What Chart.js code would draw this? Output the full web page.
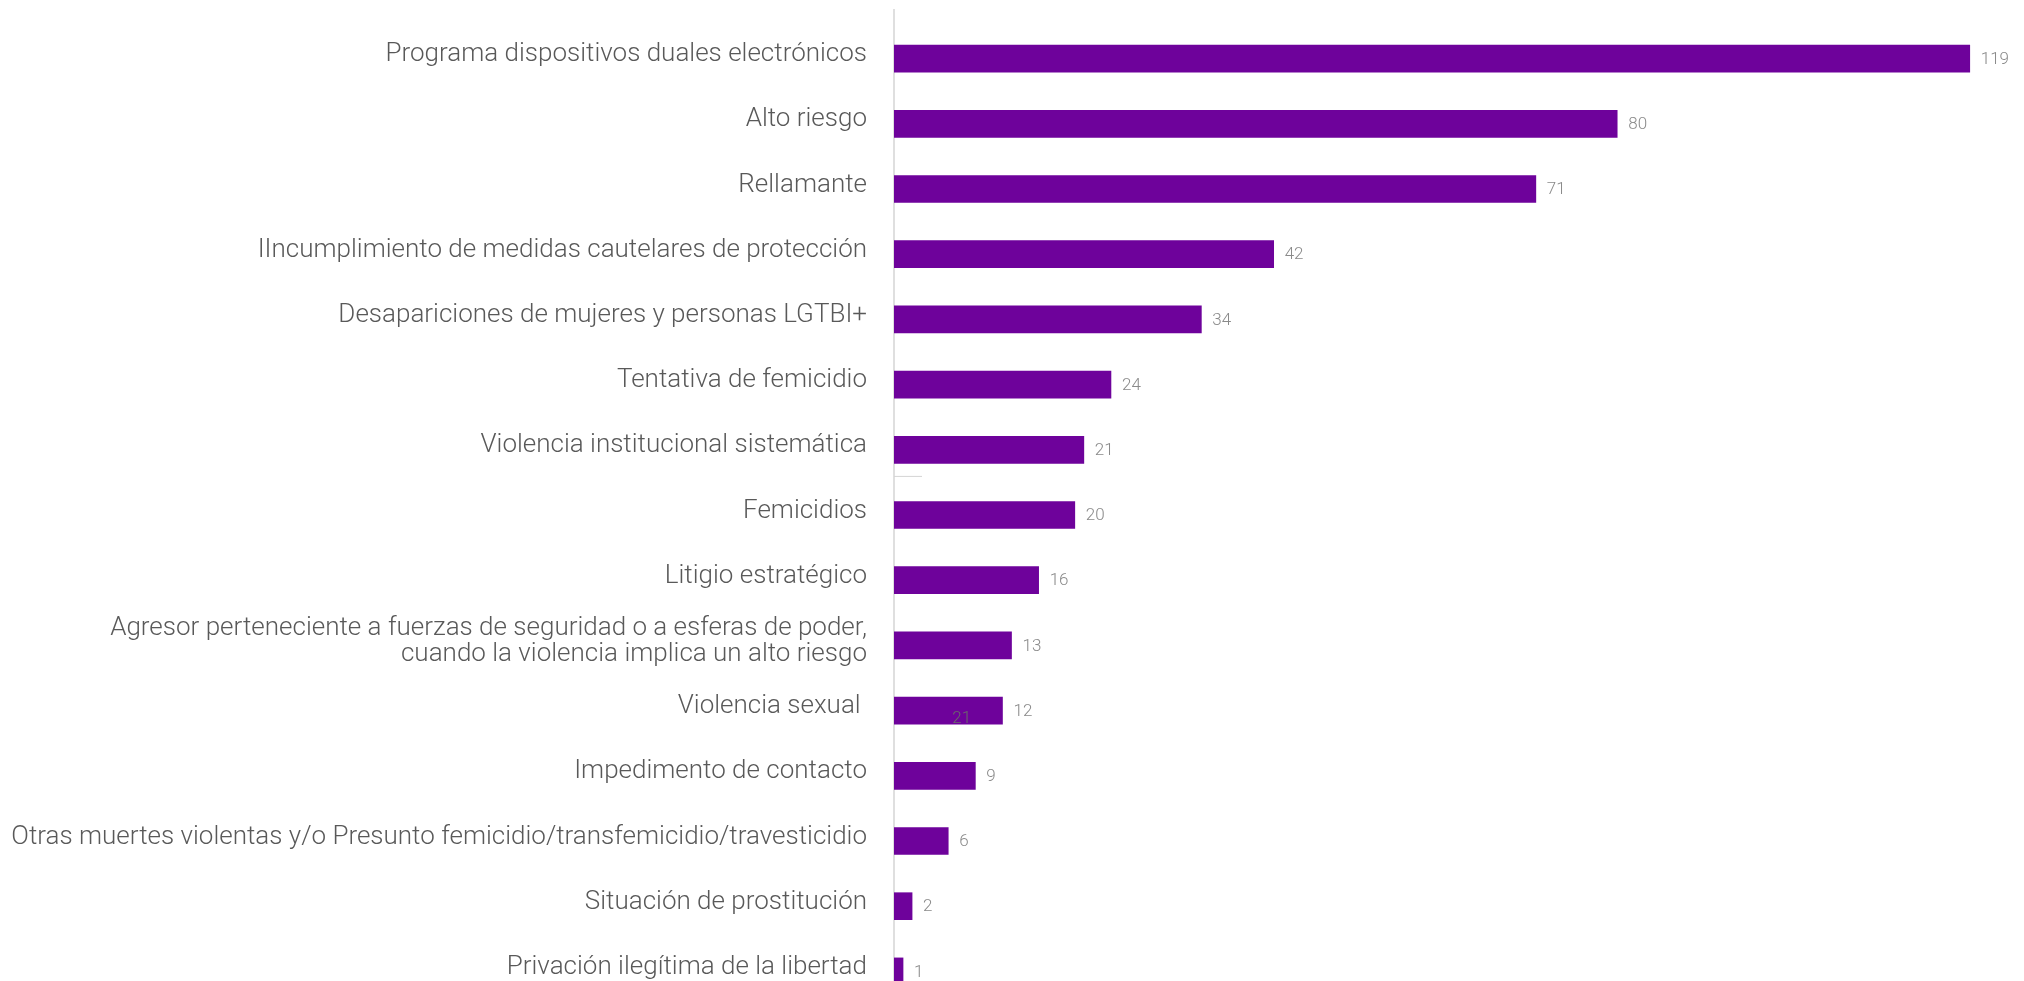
<!DOCTYPE html>
<html lang="es">
<head>
<meta charset="utf-8">
<title>Casos por tipo</title>
<script src="https://cdn.jsdelivr.net/npm/chart.js@4/dist/chart.umd.min.js"></script>
<style>
  html, body { margin: 0; padding: 0; background: #fff; overflow: hidden; }
  #wrap { width: 2024px; height: 1004px; }
</style>
</head>
<body>
<div id="wrap"><canvas id="casosChart" width="2024" height="1004"></canvas></div>
<script>
// categorias (de arriba hacia abajo) y cantidades
const categorias = [
  "Programa dispositivos duales electrónicos",
  "Alto riesgo",
  "Rellamante",
  "IIncumplimiento de medidas cautelares de protección",
  "Desapariciones de mujeres y personas LGTBI+",
  "Tentativa de femicidio",
  "Violencia institucional sistemática",
  "Femicidios",
  "Litigio estratégico",
  ["Agresor perteneciente a fuerzas de seguridad o a esferas de poder,",
   "cuando la violencia implica un alto riesgo"],
  "Violencia sexual ",
  "Impedimento de contacto",
  "Otras muertes violentas y/o Presunto femicidio/transfemicidio/travesticidio",
  "Situación de prostitución",
  "Privación ilegítima de la libertad"
];
const cantidades = [119, 80, 71, 42, 34, 24, 21, 20, 16, 13, 12, 9, 6, 2, 1];

// etiqueta suelta que aparece en el original sobre la barra de "Violencia sexual"
const notaSuelta = { texto: "21", indice: 10, valor: 7.5 };

const colores = {
  barra: "#6e029b",
  texto: "#595959",
  valor: "#8a8a8a",
  eje: "#d4d4d4"
};

// linea vertical del eje (arranca un poco mas arriba que la primera barra)
const ejePlugin = {
  id: "ejeVertical",
  beforeDatasetsDraw(chart) {
    const ctx = chart.ctx;
    const x = chart.scales.x.getPixelForValue(0);
    ctx.save();
    ctx.strokeStyle = colores.eje;
    ctx.lineWidth = 1.5;
    ctx.beginPath();
    ctx.moveTo(x, 9);
    ctx.lineTo(x, chart.height);
    ctx.stroke();
    // marquita corta que quedo entre "Violencia institucional" y "Femicidios"
    const yA = chart.scales.y.getPixelForValue(6);
    const yB = chart.scales.y.getPixelForValue(7);
    const ym = (yA + yB) / 2 - 6;
    ctx.lineWidth = 1;
    ctx.beginPath();
    ctx.moveTo(x, ym);
    ctx.lineTo(x + 28, ym);
    ctx.stroke();
    ctx.restore();
  }
};

// valores al final de cada barra
const valoresPlugin = {
  id: "valores",
  afterDatasetsDraw(chart) {
    const ctx = chart.ctx;
    const meta = chart.getDatasetMeta(0);
    ctx.save();
    ctx.font = "300 17px Roboto";
    ctx.fillStyle = colores.valor;
    ctx.textBaseline = "middle";
    ctx.textAlign = "left";
    meta.data.forEach((bar, i) => {
      ctx.fillText(String(cantidades[i]), bar.x + 11, bar.y + 1);
    });
    // nota suelta
    const nx = chart.scales.x.getPixelForValue(notaSuelta.valor);
    const ny = chart.scales.y.getPixelForValue(notaSuelta.indice);
    ctx.fillStyle = "#6a6a6a";
    ctx.textAlign = "center";
    ctx.fillText(notaSuelta.texto, nx, ny + 8);
    ctx.restore();
  }
};

const ctx = document.getElementById("casosChart").getContext("2d");

new Chart(ctx, {
  type: "bar",
  data: {
    labels: categorias,
    datasets: [
      {
        data: cantidades,
        backgroundColor: colores.barra,
        borderWidth: 0,
        barThickness: 27
      }
    ]
  },
  options: {
    indexAxis: "y",
    responsive: false,
    animation: false,
    plugins: {
      legend: { display: false },
      tooltip: { enabled: false }
    },
    layout: {
      padding: { top: 26, right: 0, bottom: 0, left: 0 }
    },
    scales: {
      x: {
        display: false,
        min: 0,
        max: 125
      },
      y: {
        afterFit: (scale) => {
          scale.width = 894;
          scale.paddingTop = 0;
          scale.paddingBottom = 0;
        },
        grid: { display: false, drawTicks: false },
        border: { display: false },
        ticks: {
          padding: 27,
          labelOffset: -4,
          color: colores.texto,
          font: { family: "Roboto", size: 26, weight: 300, lineHeight: 1.02 }
        }
      }
    }
  },
  plugins: [ejePlugin, valoresPlugin]
});
</script>
</body>
</html>
